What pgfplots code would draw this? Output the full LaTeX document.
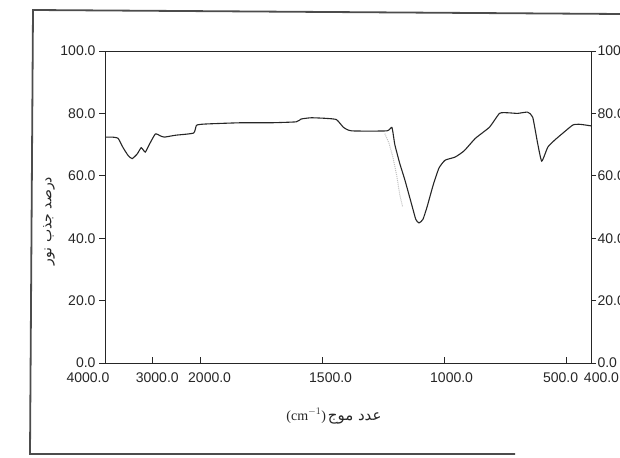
\documentclass[border=0pt]{standalone}
\usepackage{fontspec}
\setmainfont{Liberation Sans}
\newfontfamily\seriffont{Liberation Serif}
\newfontfamily\arabicfont[Script=Arabic]{DejaVu Sans}
\TeXXeTstate=1
\usepackage{pgfplots}
\pgfplotsset{compat=1.18}
\usepackage{pgfplotstable}

% wavenumber (cm^-1), transmittance (%)
\pgfplotstableread{
wn    T
4000  72.4
3853  72.4
3726  72.0
3621  69.0
3516  66.5
3432  65.5
3326  67.0
3242  69.0
3158  67.6
3074  70.0
2947  73.4
2842  72.8
2758  72.4
2526  73.0
2147  73.7
2084  76.2
1979  76.6
1835  77.0
1711  77.0
1608  77.3
1588  78.2
1546  78.6
1485  78.4
1443  78.0
1414  75.5
1381  74.4
1237  74.4
1216  75.5
1204  70.0
1184  64.0
1163  58.7
1134  50.5
1118  46.0
1105  44.9
1089  46.0
1072  50.0
1047  57.0
1023  62.5
998   65.0
957   66.0
920   68.0
874   72.0
816   75.6
775   80.0
742   80.2
701   80.0
660   80.4
639   78.8
619   70.5
602   64.7
577   69.2
548   71.5
515   73.7
474   76.3
445   76.5
400   76.0
}\spectrum

% faint shadow trace of the scan along the steep drop
\pgfplotstableread{
wn    T
1245  73.5
1228  70.5
1212  66.0
1196  60.0
1184  54.0
1172  50.0
}\shadow

\pgfplotsset{
  irtrafo/.style={
    x coord trafo/.code={\pgfmathparse{##1>1999.99 ? (4000-##1)*0.0475 : 95+(2000-##1)*0.2425}},
  },
  common/.style={
    at={(105pt,94pt)}, anchor=south west,
    width=486pt, height=312pt, scale only axis,
    ymin=0, ymax=100,
    axis line style={line width=0.9pt, black!85},
    every tick/.style={line width=0.9pt, black!85},
    tick label style={font=\fontsize{14}{16}\selectfont, text=black!85},
    /pgf/number format/assume math mode=true,
  },
}

\begin{document}
\begin{tikzpicture}[x=1pt,y=1pt]
\useasboundingbox (0,0) rectangle (620,457);
% page frame of the scan
\draw[line width=1.8pt, black!70, line join=miter] (515,3) -- (30,3) -- (33,447) -- (620,443);

% main axis: box, curve, x ticks pointing inward
\begin{axis}[common, irtrafo,
  xmin=4000, xmax=400,
  xtick={4000,3000,2000,1500,1000,500,400},
  xticklabels={\hspace*{-34pt}4000.0,\hspace*{9pt}3000.0,\hspace*{18pt}2000.0,\hspace*{16pt}1500.0,\hspace*{14pt}1000.0,\hspace*{-12pt}500.0,\hspace*{21pt}400.0},
  xticklabel style={yshift=-6pt},
  xtick pos=bottom, tick align=inside, major tick length=6pt,
  ytick=\empty,
]
\addplot[black!25, densely dotted, line width=1pt] table[x=wn, y=T] {\shadow};
\addplot[black!85, line width=1.1pt, smooth, tension=0.3] table[x=wn, y=T] {\spectrum};
\end{axis}

% left y axis, ticks outward
\begin{axis}[common,
  xmin=0, xmax=1,
  axis x line=none, axis y line*=left,
  tick align=outside, major tick length=6pt,
  ytick={0,20,40,60,80,100},
  yticklabels={0.0,20.0,40.0,60.0,80.0,100.0},
]
\end{axis}

% right y axis, ticks outward
\begin{axis}[common,
  xmin=0, xmax=1,
  axis x line=none, axis y line*=right,
  tick align=outside, major tick length=5pt,
  ytick={0,20,40,60,80,100},
  yticklabels={0.0,20.0,40.0,60.0,80.0,100.0},
  yticklabel style={anchor=west, xshift=-2pt},
]
\end{axis}

% axis titles
\node[rotate=90, font=\arabicfont\fontsize{14}{16}\selectfont, text=black!85] at (49,236) {\beginR درصد جذب نور\endR};
\node[text=black!85] at (334,41) {{\seriffont\fontsize{14}{16}\selectfont (cm$^{-1}$)}\,{\arabicfont\fontsize{15}{17}\selectfont\beginR عدد موج\endR}};
\end{tikzpicture}
\end{document}
